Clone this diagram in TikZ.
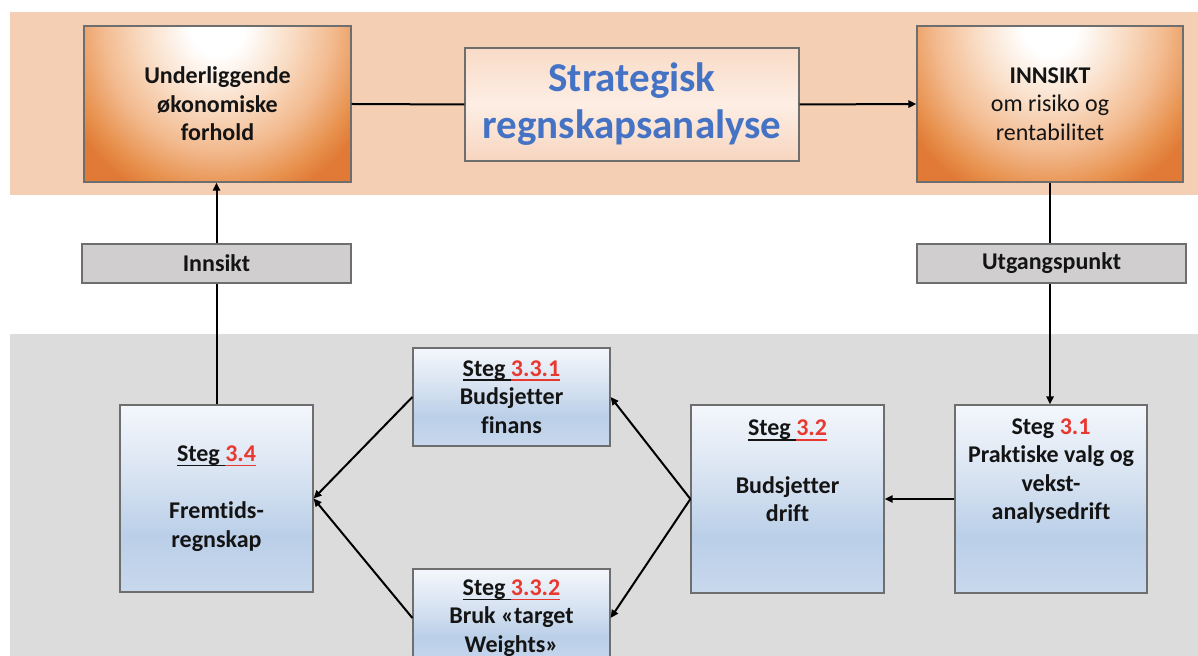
\documentclass[tikz,border=0pt]{standalone}
\usepackage{fontspec}
\setmainfont{Carlito}[Ligatures=NoCommon]
\usetikzlibrary{arrows.meta}

% palette
\definecolor{bandorange}{HTML}{F5CFB3}
\definecolor{bandgray}{HTML}{DCDCDC}
\definecolor{boxline}{HTML}{6E6E6E}
\definecolor{tagfill}{HTML}{D0CECE}
\definecolor{inkdark}{HTML}{141414}
\definecolor{titleblue}{HTML}{4472C4}
\definecolor{stegred}{HTML}{E8382F}
\definecolor{glowA}{HTML}{F9DCC4}
\definecolor{glowB}{HTML}{F2B98D}
\definecolor{glowC}{HTML}{E8924F}
\definecolor{glowD}{HTML}{E07A36}
\definecolor{blueA}{HTML}{F4F7FC}
\definecolor{blueB}{HTML}{D6E2F1}
\definecolor{blueC}{HTML}{BACFE8}
\definecolor{blueD}{HTML}{C8D8ED}
\definecolor{peachA}{HTML}{F9DBC7}
\definecolor{peachB}{HTML}{FDEEE4}
\definecolor{peachC}{HTML}{F7D5BF}

% shadings (the path covers 25bp..75bp of a vertical shading)
\pgfdeclareradialshading{glow}{\pgfpointorigin}{color(0bp)=(white); color(4bp)=(white); color(11bp)=(glowA); color(17bp)=(glowB); color(22bp)=(glowC); color(25bp)=(glowD); color(50bp)=(glowD)}
\pgfdeclareverticalshading{bluegrad}{100bp}{color(0bp)=(blueD); color(25bp)=(blueD); color(40bp)=(blueC); color(55bp)=(blueB); color(75bp)=(blueA); color(100bp)=(blueA)}
\pgfdeclareverticalshading{peachgrad}{100bp}{color(0bp)=(peachC); color(25bp)=(peachC); color(50bp)=(peachB); color(75bp)=(peachA); color(100bp)=(peachA)}

% underlined step heading: the rule takes the current colour
\newsavebox\ulsave
\newcommand\ulpiece[1]{\sbox\ulsave{#1}\rlap{\rule[-2.4pt]{\wd\ulsave}{0.75pt}}\usebox\ulsave}
\newcommand\stepnum[1]{\ulpiece{Steg\ }{\color{stegred}\ulpiece{#1}}}

\begin{document}
\begin{tikzpicture}[x=0.5pt,y=-0.5pt,
  txt/.style={font=\fontsize{12}{14.3}\selectfont\bfseries, text=inkdark, align=center, inner sep=0pt},
  orangebox/.style={draw=boxline, line width=0.6pt, fill=glowD, txt,
    minimum width=#1, minimum height=78pt,
    path picture={\shade[shading=glow] (path picture bounding box.north) ellipse [x radius=0.64*#1, y radius=92pt];}},
  bluebox/.style={draw=boxline, line width=0.6pt, shading=bluegrad, txt},
  tagbox/.style={draw=boxline, line width=0.6pt, fill=tagfill, txt, minimum width=134.5pt, minimum height=19.5pt},
  conn/.style={draw=black, line width=1pt},
  arr/.style={conn, -{Triangle[length=4pt,width=3.6pt]}}]

\useasboundingbox (0,0) rectangle (1198,656);
\clip (0,0) rectangle (1198,656);

% background bands
\fill[bandorange] (10,12) rectangle (1198,195);
\fill[bandgray] (10,334) rectangle (1198,656);

% top row
\node[orangebox=133.5pt] (und) at (217.5,104) {Underliggende\\økonomiske\\forhold};
\node[draw=boxline, line width=0.6pt, shading=peachgrad, minimum width=167pt, minimum height=56.5pt,
      font=\fontsize{20.5}{23.5}\selectfont\bfseries, text=titleblue, align=center, inner sep=0pt] (strat) at (632,104.5)
      {Strategisk\\regnskapsanalyse};
\node[orangebox=133pt] (inn) at (1050,104) {INNSIKT\\\mdseries om risiko og\\\mdseries rentabilitet};

% middle tags
\node[tagbox] (lblA) at (216.5,263.5) {Innsikt};
\node[tagbox] (lblB) at (1051.5,263.5) {Utgangspunkt};

% step boxes
\node[bluebox, minimum width=96.5pt, minimum height=93.5pt] (s34) at (216.5,498.5)
  {\stepnum{3.4}\\\mbox{}\\Fremtids-\\regnskap};
\node[bluebox, minimum width=98.5pt, minimum height=49pt] (s331) at (511.5,397)
  {\stepnum{3.3.1}\\Budsjetter\\finans};
\node[bluebox, minimum width=98.5pt, minimum height=49pt] (s332) at (511.5,618)
  {\stepnum{3.3.2}\\Bruk «target\\Weights»};
\node[bluebox, minimum width=96.5pt, minimum height=94pt] (s32) at (787.5,499) {};
\node[bluebox, minimum width=96pt, minimum height=94pt] (s31) at (1051,499) {};
\node[txt] (s32t) at ([yshift=14pt]s32.center) {\stepnum{3.2}\\\mbox{}\\Budsjetter\\drift};
\node[txt] (s31t) at ([yshift=14pt]s31.center) {Steg {\color{stegred}3.1}\\Praktiske valg og\\vekst-\\analysedrift};

% connectors
\draw[conn] (und.east) -- (strat.west);
\draw[arr] (strat.east) -- (inn.west);
\draw[conn] (inn.south) -- (inn.south |- lblB.north);
\draw[arr] (inn.south |- lblB.south) -- (inn.south |- s31.north);
\draw[arr] (s31.west) -- (s32.east);
\draw[arr] (s32.west) -- (s331.east);
\draw[arr] (s32.west) -- (s332.east);
\draw[arr] (s331.west) -- (s34.east);
\draw[arr] (s332.west) -- (s34.east);
\draw[conn] (s34.north) -- (s34.north |- lblA.south);
\draw[arr] (s34.north |- lblA.north) -- (s34.north |- und.south);
\end{tikzpicture}
\end{document}
